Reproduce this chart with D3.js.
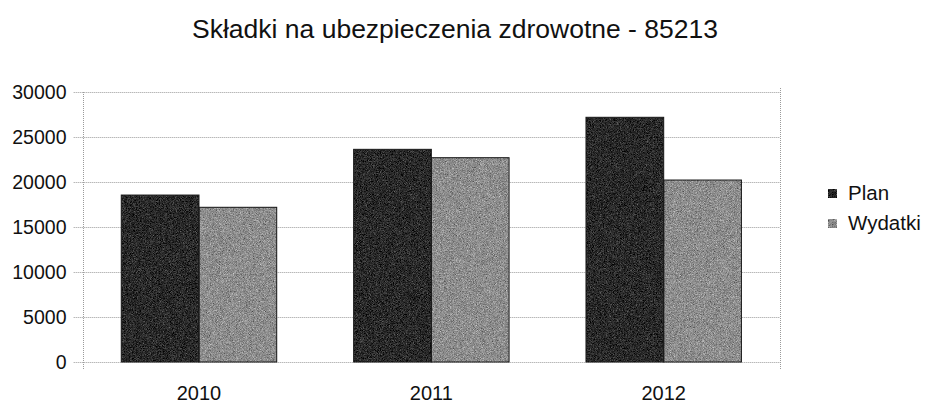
<!DOCTYPE html>
<html>
<head>
<meta charset="utf-8">
<script src="https://d3js.org/d3.v7.min.js"></script>
<style>
	body { margin: 0; background: #ffffff; }
	svg { display: block; }
</style>
</head>
<body>
<div id="chart"></div>
<script>
"use strict";

// data
var years = ["2010", "2011", "2012"];
var seriesNames = ["Plan", "Wydatki"];
var planValues = [18550, 23630, 27190];
var wydatkiValues = [17190, 22700, 20220];
var yTicks = [0, 5000, 10000, 15000, 20000, 25000, 30000];
var chartTitle = "Składki na ubezpieczenia zdrowotne - 85213";

var width = 929,
	height = 403,
	plotLeft = 82.7,
	plotRight = 780,
	plotTop = 92,
	plotBottom = 362;

var fontFam = "'Liberation Sans', Arial, sans-serif";
var colors = {"Plan": "#2a2a2a", "Wydatki": "#8e8e8e"};

var svg = d3.select("#chart").append("svg")
	.attr("width", width)
	.attr("height", height);

// grain filter so the bars look a bit like the scanned original
var defs = svg.append("defs");
var grain = defs.append("filter").attr("id", "grain")
	.attr("x", 0).attr("y", 0).attr("width", 1).attr("height", 1)
	.attr("color-interpolation-filters", "sRGB");
grain.append("feTurbulence")
	.attr("type", "fractalNoise")
	.attr("baseFrequency", 1.3)
	.attr("numOctaves", 2)
	.attr("seed", 7)
	.attr("result", "noise");
grain.append("feColorMatrix")
	.attr("in", "noise")
	.attr("type", "matrix")
	.attr("values", "0.33 0.33 0.33 0 0  0.33 0.33 0.33 0 0  0.33 0.33 0.33 0 0  0 0 0 0 1")
	.attr("result", "grey");
grain.append("feComposite")
	.attr("in", "SourceGraphic")
	.attr("in2", "grey")
	.attr("operator", "arithmetic")
	.attr("k1", 0).attr("k2", 1).attr("k3", 1.1).attr("k4", -0.55)
	.attr("result", "mixed");
grain.append("feComposite")
	.attr("in", "mixed")
	.attr("in2", "SourceGraphic")
	.attr("operator", "in");

var y = d3.scaleLinear()
	.domain([0, 30000])
	.range([plotBottom, plotTop]);

var x = d3.scaleBand()
	.domain(years)
	.range([plotLeft, plotRight])
	.paddingInner(0.331)
	.paddingOuter(0.166);

var xSub = d3.scaleBand()
	.domain(seriesNames)
	.range([0, x.bandwidth()]);

// gridlines, faint and dotted
var grid = svg.append("g").attr("class", "grid");
grid.selectAll("line")
	.data(yTicks)
	.enter().append("line")
	.attr("x1", plotLeft - 9)
	.attr("x2", plotRight)
	.attr("y1", function(d){ return Math.round(y(d)) + 0.5; })
	.attr("y2", function(d){ return Math.round(y(d)) + 0.5; })
	.style("stroke", "#9a9a9a")
	.style("stroke-width", 1)
	.style("stroke-dasharray", "1,1");

// left axis and right border
svg.append("line")
	.attr("x1", Math.round(plotLeft) + 0.5).attr("x2", Math.round(plotLeft) + 0.5)
	.attr("y1", plotTop).attr("y2", plotBottom + 8)
	.style("stroke", "#9a9a9a")
	.style("stroke-dasharray", "1,1");
svg.append("line")
	.attr("x1", Math.round(plotRight) + 0.5).attr("x2", Math.round(plotRight) + 0.5)
	.attr("y1", plotTop - 4).attr("y2", plotBottom + 8)
	.style("stroke", "#9a9a9a")
	.style("stroke-dasharray", "1,1");

// bars
var rows = years.map(function(yr, i){
	return {year: yr, values: [
		{name: "Plan", value: planValues[i]},
		{name: "Wydatki", value: wydatkiValues[i]}
	]};
});

var groups = svg.selectAll("g.year")
	.data(rows)
	.enter().append("g")
	.attr("class", "year")
	.attr("transform", function(d){ return "translate(" + x(d.year) + ",0)"; });

groups.selectAll("rect")
	.data(function(d){ return d.values; })
	.enter().append("rect")
	.attr("x", function(d){ return xSub(d.name); })
	.attr("y", function(d){ return y(d.value); })
	.attr("width", xSub.bandwidth())
	.attr("height", function(d){ return y(0) - y(d.value); })
	.style("fill", function(d){ return colors[d.name]; })
	.attr("filter", "url(#grain)");

// thin outline on top of the grain
groups.selectAll("rect.edge")
	.data(function(d){ return d.values; })
	.enter().append("rect")
	.attr("class", "edge")
	.attr("x", function(d){ return xSub(d.name); })
	.attr("y", function(d){ return y(d.value); })
	.attr("width", xSub.bandwidth())
	.attr("height", function(d){ return y(0) - y(d.value); })
	.style("fill", "none")
	.style("stroke", "#1a1a1a")
	.style("stroke-width", 1);

// y tick labels
svg.append("g").selectAll("text")
	.data(yTicks)
	.enter().append("text")
	.attr("x", 66.5)
	.attr("y", function(d){ return y(d); })
	.attr("dy", "0.36em")
	.attr("text-anchor", "end")
	.style("font-family", fontFam)
	.style("font-size", "19.5px")
	.style("fill", "#111")
	.text(function(d){ return d; });

// x labels
svg.append("g").selectAll("text")
	.data(years)
	.enter().append("text")
	.attr("x", function(d){ return x(d) + x.bandwidth() / 2; })
	.attr("y", 400)
	.attr("text-anchor", "middle")
	.style("font-family", fontFam)
	.style("font-size", "20px")
	.style("fill", "#111")
	.text(function(d){ return d; });

// title
svg.append("text")
	.attr("x", 455)
	.attr("y", 38)
	.attr("text-anchor", "middle")
	.style("font-family", fontFam)
	.style("font-size", "26.5px")
	.style("fill", "#111")
	.text(chartTitle);

// legend
var legend = svg.append("g").selectAll("g")
	.data(seriesNames)
	.enter().append("g")
	.attr("transform", function(d, i){ return "translate(828," + (189 + i * 30) + ")"; });
legend.append("rect")
	.attr("width", 9)
	.attr("height", 9)
	.style("fill", function(d){ return colors[d]; })
	.attr("filter", "url(#grain)");
legend.append("text")
	.attr("x", 20)
	.attr("y", 10.5)
	.style("font-family", fontFam)
	.style("font-size", "20.5px")
	.style("fill", "#111")
	.text(function(d){ return d; });
</script>
</body>
</html>
